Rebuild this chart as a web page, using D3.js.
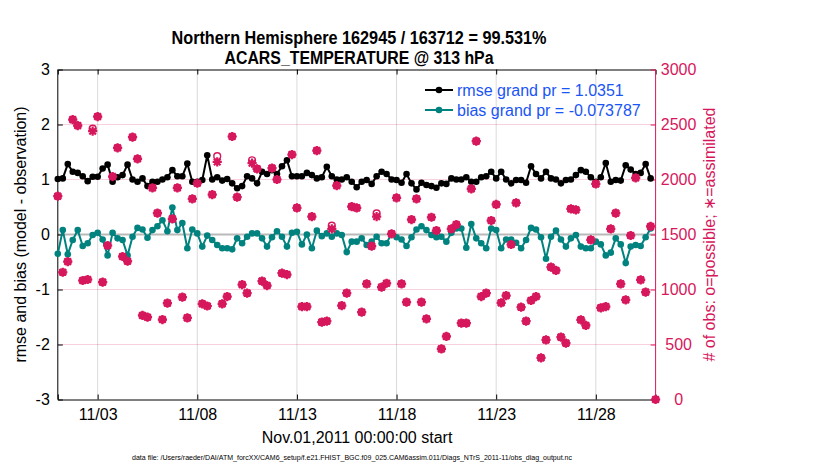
<!DOCTYPE html>
<html>
<head>
<meta charset="utf-8">
<script src="https://cdn.jsdelivr.net/npm/d3@7"></script>
<style>
  body { margin: 0; background: #fff; }
  svg { display: block; }
  text { font-family: 'Liberation Sans', Arial, Helvetica, sans-serif; }
</style>
</head>
<body>
<div id="chart"></div>
<script>
// 6-hourly values, Nov 1 00:00 .. Nov 30 18:00
const rmse = [
  1.01, 1.02, 1.28, 1.14, 1.12, 1.06, 0.97, 1.05, 1.05, 1.20,
  1.27, 0.96, 1.04, 1.08, 1.27, 1.00, 0.96, 1.02, 0.88, 0.96,
  0.96, 1.00, 1.04, 1.17, 1.06, 1.06, 1.29, 0.96, 0.96, 0.99,
  1.44, 1.00, 1.04, 0.98, 1.01, 0.93, 0.84, 0.88, 1.06, 1.02,
  0.93, 1.14, 1.10, 1.17, 1.10, 1.24, 1.35, 1.06, 1.06, 1.06,
  1.12, 1.08, 1.02, 1.04, 1.23, 1.06, 1.00, 1.00, 1.04, 0.96,
  0.86, 0.96, 0.99, 0.92, 1.06, 1.14, 1.10, 1.00, 0.99, 0.94,
  1.10, 0.93, 0.82, 0.94, 0.90, 0.88, 0.85, 0.93, 0.92, 1.02,
  1.00, 1.00, 1.04, 0.96, 0.96, 1.04, 1.06, 1.14, 1.02, 1.14,
  1.00, 0.93, 0.99, 0.99, 0.94, 1.24, 1.10, 1.02, 1.14, 1.02,
  1.00, 0.93, 0.99, 1.00, 1.08, 1.17, 1.14, 1.04, 0.96, 1.04,
  1.30, 0.96, 0.99, 0.98, 1.26, 1.18, 1.10, 1.12, 1.28, 1.02
];

const bias = [
  -0.35, 0.08, -0.36, -0.10, 0.08, -0.21, -0.16, -0.01, 0.03, -0.09,
  -0.38, 0.03, -0.07, -0.10, -0.38, -0.04, 0.12, 0.09, -0.06, 0.08,
  0.15, 0.26, 0.06, 0.49, 0.08, 0.21, -0.25, 0.09, 0.02, -0.22,
  -0.02, -0.10, -0.19, -0.25, -0.25, -0.27, -0.07, -0.16, -0.04, 0.02,
  0.02, -0.07, -0.22, -0.05, 0.06, -0.04, -0.22, 0.03, 0.05, -0.18,
  0.00, -0.25, 0.07, -0.03, 0.02, -0.04, 0.02, -0.01, -0.32, -0.13,
  -0.13, -0.07, -0.19, -0.13, -0.04, -0.16, -0.16, 0.02, -0.05, -0.09,
  -0.21, -0.05, 0.09, 0.15, 0.08, -0.01, -0.05, -0.04, -0.13, 0.03,
  0.11, 0.11, -0.24, 0.19, -0.07, -0.16, -0.25, 0.11, 0.08, -0.25,
  -0.09, -0.09, -0.15, -0.25, -0.10, 0.12, 0.09, -0.05, -0.44, -0.04,
  0.07, -0.09, -0.22, -0.07, -0.01, -0.22, -0.25, -0.25, -0.13, -0.18,
  -0.38, -0.33, -0.07, -0.18, -0.52, -0.22, -0.19, -0.21, -0.05, 0.11
];

// obs counts, Nov 1 00:00 .. Dec 1 00:00
const obsUsed = [
  1848, 1157, 1254, 2545, 2490, 1082, 1091, 2439, 2572, 1067,
  1400, 2027, 2288, 1300, 1257, 2385, 2188, 764, 748, 1924,
  1694, 727, 876, 1642, 1924, 930, 742, 1824, 1966, 870,
  850, 1863, 2160, 870, 936, 2391, 1839, 1045, 967, 2148,
  2097, 1076, 1036, 2103, 2000, 1148, 1136, 2227, 1742, 845,
  845, 1663, 2263, 703, 712, 1551, 1945, 854, 967, 1754,
  1742, 794, 1051, 1394, 1663, 1021, 1057, 1506, 1833, 1051,
  885, 1636, 1824, 885, 733, 1657, 1536, 460, 573, 1551,
  1591, 694, 694, 1915, 2348, 936, 967, 1627, 1773, 879,
  945, 1409, 1788, 839, 712, 900, 936, 379, 542, 1203,
  1173, 567, 512, 1733, 1724, 724, 673, 1451, 1960, 833,
  845, 1551, 1694, 1051, 906, 1491, 2015, 1088, 976, 1573,
  0
];

const obsPossible = [
  1848, 1157, 1254, 2545, 2490, 1082, 1091, 2462, 2572, 1067,
  1400, 2027, 2288, 1300, 1257, 2385, 2188, 764, 748, 1924,
  1694, 727, 876, 1642, 1924, 930, 742, 1824, 1966, 870,
  850, 1863, 2212, 870, 936, 2391, 1839, 1045, 967, 2175,
  2097, 1076, 1036, 2103, 2000, 1148, 1136, 2227, 1742, 845,
  845, 1663, 2263, 703, 712, 1580, 1945, 854, 967, 1754,
  1742, 794, 1051, 1394, 1692, 1021, 1057, 1506, 1833, 1051,
  885, 1636, 1824, 885, 733, 1657, 1536, 460, 573, 1551,
  1591, 694, 694, 1915, 2348, 936, 967, 1627, 1773, 879,
  945, 1409, 1788, 839, 712, 900, 936, 379, 542, 1203,
  1173, 567, 512, 1733, 1724, 724, 673, 1451, 1960, 833,
  845, 1551, 1694, 1051, 906, 1491, 2015, 1088, 976, 1573,
  0
];

const xTickLabels = ['11/03', '11/08', '11/13', '11/18', '11/23', '11/28'];
const yTicks = [-3, -2, -1, 0, 1, 2, 3];
const countTicks = [0, 500, 1000, 1500, 2000, 2500, 3000];
const legendLabels = ['rmse grand pr = 1.0351', 'bias grand pr = -0.073787'];
const titleLines = ['Northern Hemisphere 162945 / 163712 = 99.531%', 'ACARS_TEMPERATURE @ 313 hPa'];
const xLabel = 'Nov.01,2011 00:00:00 start';
const yLabel = 'rmse and bias (model - observation)';
const y2Label = '# of obs: o=possible; \u2217=assimilated';
const dataFile = 'data file: /Users/raeder/DAI/ATM_forcXX/CAM6_setup/f.e21.FHIST_BGC.f09_025.CAM6assim.011/Diags_NTrS_2011-11/obs_diag_output.nc';

const W = 830, H = 470;
const RED = '#d6175c', TEAL = '#00827f', BLUE = '#1a55f5';
const plotLeft = 57.8, plotRight = 655.6, plotTop = 69.5, plotBottom = 399.5;

const start = new Date(Date.UTC(2011, 10, 1));
const end = new Date(Date.UTC(2011, 11, 1));
const times = d3.utcHour.every(6).range(start, new Date(Date.UTC(2011, 11, 1, 1)));
const parseTick = d3.utcParse('%Y/%m/%d');
const xTicks = xTickLabels.map((l) => parseTick('2011/' + l));

const x = d3.scaleUtc().domain([start, end]).range([plotLeft, plotRight]);
const y = d3.scaleLinear().domain([-3, 3]).range([plotBottom, plotTop]);
const y2 = d3.scaleLinear().domain([0, 3000]).range([plotBottom, plotTop]);

const svg = d3.select('#chart').append('svg')
  .attr('width', W).attr('height', H)
  .attr('viewBox', `0 0 ${W} ${H}`);

// Grid
svg.append('g').selectAll('line').data(countTicks.slice(1, -1)).enter().append('line')
  .attr('x1', plotLeft).attr('x2', plotRight)
  .attr('y1', (d) => y2(d)).attr('y2', (d) => y2(d))
  .attr('stroke', RED).attr('stroke-opacity', 0.2).attr('stroke-width', 1);

svg.append('g').selectAll('line').data(xTicks).enter().append('line')
  .attr('x1', (d) => x(d)).attr('x2', (d) => x(d))
  .attr('y1', plotTop).attr('y2', plotBottom)
  .attr('stroke', '#000').attr('stroke-opacity', 0.15).attr('stroke-width', 1);

// zero line
svg.append('line')
  .attr('x1', plotLeft).attr('x2', plotRight)
  .attr('y1', y(0)).attr('y2', y(0))
  .attr('stroke', '#b9b9b9').attr('stroke-width', 2.2);

// Axes
const fmt = d3.utcFormat('%m/%d');
const plain = (d) => String(d);
const xAxis = svg.append('g').attr('transform', `translate(0,${plotBottom})`)
  .call(d3.axisBottom(x).tickValues(xTicks).tickFormat(fmt).tickSize(-5).tickPadding(20));
xAxis.selectAll('text').attr('font-size', 16).attr('fill', '#000').attr('dy', 0).attr('y', 20.5);

svg.append('g').attr('transform', `translate(0,${plotTop})`)
  .call(d3.axisTop(x).tickValues(xTicks).tickFormat('').tickSize(-5));

const yAxis = svg.append('g').attr('transform', `translate(${plotLeft},0)`)
  .call(d3.axisLeft(y).tickValues(yTicks).tickFormat(plain).tickSize(-5).tickPadding(8));
yAxis.selectAll('text').attr('font-size', 16).attr('fill', '#000');

const y2Axis = svg.append('g').attr('transform', `translate(${plotRight},0)`)
  .call(d3.axisRight(y2).tickValues(countTicks).tickFormat(plain).tickSize(-5));
y2Axis.selectAll('text').attr('font-size', 16).attr('fill', RED)
  .attr('text-anchor', 'middle').attr('x', 23);
y2Axis.selectAll('line, path').attr('stroke', RED);

svg.selectAll('.domain').attr('stroke-width', 1);
xAxis.select('.domain').attr('stroke', '#000');
y2Axis.select('.domain').attr('stroke', RED).attr('d', `M0,${plotTop}V${plotBottom}`);
yAxis.select('.domain').attr('d', `M0,${plotTop}V${plotBottom}`);

// Series lines
const line = d3.line()
  .defined((d) => d != null)
  .x((d, i) => x(times[i]))
  .y((d) => y(d));

function drawSeries(values, color) {
  svg.append('path').datum(values)
    .attr('fill', 'none').attr('stroke', color).attr('stroke-width', 2)
    .attr('stroke-linejoin', 'round')
    .attr('d', line);
  svg.append('g').selectAll('circle').data(values).enter().append('circle')
    .attr('cx', (d, i) => x(times[i]))
    .attr('cy', (d) => y(d))
    .attr('r', 3.3)
    .attr('fill', color);
}
drawSeries(rmse, '#000');
drawSeries(bias, TEAL);

// Obs count markers: o = possible, * = assimilated
const star = 'M-4.6,0H4.6M0,-4.6V4.6M-3.3,-3.3L3.3,3.3M-3.3,3.3L3.3,-3.3';
svg.append('g').selectAll('circle').data(obsPossible).enter().append('circle')
  .attr('cx', (d, i) => x(times[i]))
  .attr('cy', (d) => y2(d))
  .attr('r', 3.4)
  .attr('fill', 'none').attr('stroke', RED).attr('stroke-width', 1.4);
svg.append('g').selectAll('path').data(obsUsed).enter().append('path')
  .attr('transform', (d, i) => `translate(${x(times[i])},${y2(d)})`)
  .attr('d', star)
  .attr('fill', 'none').attr('stroke', RED).attr('stroke-width', 2.2);

// Legend
const legend = svg.append('g');
const legendColors = ['#000', TEAL];
legendLabels.forEach((label, i) => {
  const ly = 90 + i * 20;
  legend.append('line').attr('x1', 425).attr('x2', 453).attr('y1', ly).attr('y2', ly)
    .attr('stroke', legendColors[i]).attr('stroke-width', 2);
  legend.append('circle').attr('cx', 439).attr('cy', ly).attr('r', 3.3).attr('fill', legendColors[i]);
  legend.append('text').attr('x', 457).attr('y', ly + 6)
    .attr('font-size', 16).attr('fill', BLUE).text(label);
});

// Titles
const titleWidths = [375, 269];
titleLines.forEach((t, i) => {
  svg.append('text')
    .attr('x', 359).attr('y', 44 + i * 19.5)
    .attr('text-anchor', 'middle')
    .attr('font-family', "'Liberation Sans Narrow', 'Liberation Sans', Arial, sans-serif")
    .attr('font-size', 18).attr('font-weight', 'bold')
    .attr('textLength', titleWidths[i]).attr('lengthAdjust', 'spacingAndGlyphs')
    .text(t);
});

// Axis labels
svg.append('text').attr('x', 357).attr('y', 443).attr('text-anchor', 'middle')
  .attr('font-size', 16).text(xLabel);

svg.append('text').attr('transform', `translate(26,${(plotTop + plotBottom) / 2}) rotate(-90)`)
  .attr('text-anchor', 'middle').attr('font-size', 16).text(yLabel);

svg.append('text').attr('transform', `translate(715,${(plotTop + plotBottom) / 2}) rotate(-90)`)
  .attr('text-anchor', 'middle').attr('font-size', 16).attr('fill', RED).text(y2Label);

svg.append('text').attr('x', 132).attr('y', 460)
  .attr('font-size', 7.5).attr('textLength', 440).attr('lengthAdjust', 'spacingAndGlyphs')
  .text(dataFile);
</script>
</body>
</html>
